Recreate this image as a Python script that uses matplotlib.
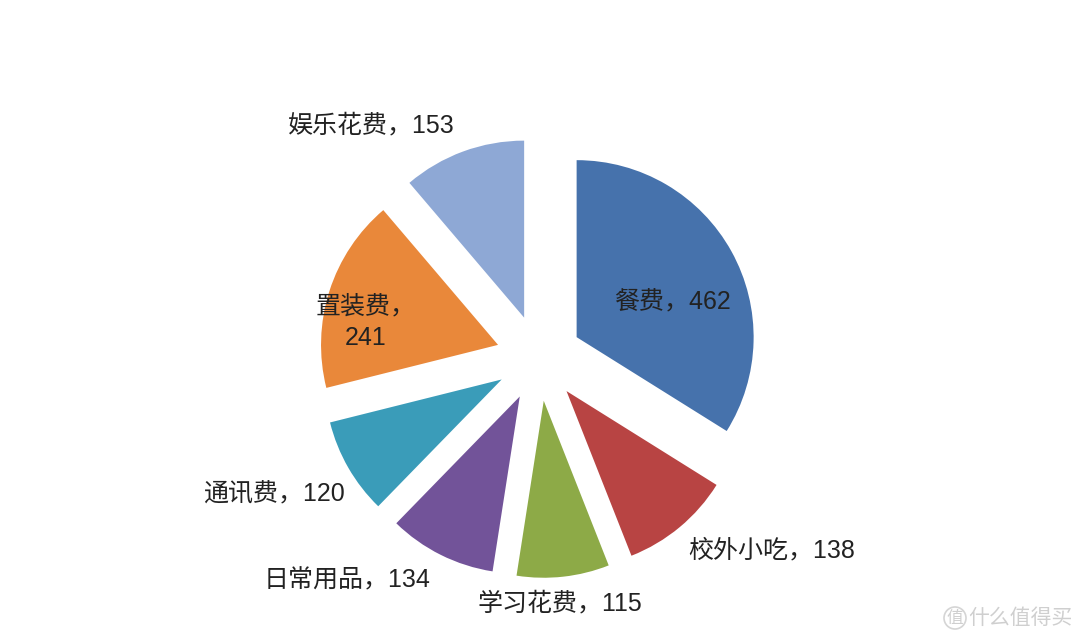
import matplotlib
matplotlib.use("Agg")
import matplotlib.pyplot as plt

plt.rcParams['font.family'] = ['Liberation Sans', 'Noto Sans CJK SC', 'DejaVu Sans']

categories = ['餐费', '校外小吃', '学习花费', '日常用品', '通讯费', '置装费', '娱乐花费']
values = [462, 138, 115, 134, 120, 241, 153]
colors = ['#4672AC', '#B84443', '#8DAA47', '#725399', '#3A9CB9', '#E9883A', '#8EA8D5']

# label centres in pixel coordinates (x from left, y from top)
label_px = [(672, 302), (772, 550), (560, 603), (347, 580), (274, 494), (366, 322), (371, 125)]
label_sep = ['，', '，', '，', '，', '，', '，\n', '，']

W, H = 1080, 644
R = 177.0            # pie radius in px
cx, cy = 539.0, 358.0  # centre in px (from top)

fig = plt.figure(figsize=(W / 100, H / 100), dpi=100)
ax = fig.add_axes([0, 0, 1, 1])
ax.set_aspect('equal')
ax.axis('off')

ax.pie(values, colors=colors, startangle=90, counterclock=False,
       radius=1.0, explode=[0.243] * len(values),
       wedgeprops=dict(linewidth=0))
ax.set_xlim(-cx / R, (W - cx) / R)
ax.set_ylim(-(H - cy) / R, cy / R)

for cat, v, (px, py), sep in zip(categories, values, label_px, label_sep):
    x = (px - cx) / R
    y = (cy - py) / R
    ax.text(x, y, f'{cat}{sep}{v}', ha='center', va='center', fontsize=18,
            color='#222222', linespacing=1.4)

# watermark
fig.text(955 / W, 1 - 618 / H, '值', fontsize=12, color='#cfcfcf', ha='center', va='center',
         family=['Noto Sans CJK SC'],
         bbox=dict(boxstyle='circle,pad=0.15', fc='none', ec='#d5d5d5', lw=1.2))
fig.text(1020 / W, 1 - 618 / H, '什么值得买', fontsize=15, color='#cfcfcf', ha='center', va='center',
         family=['Noto Sans CJK SC'])

fig.savefig('out.png', dpi=100, facecolor='white')
